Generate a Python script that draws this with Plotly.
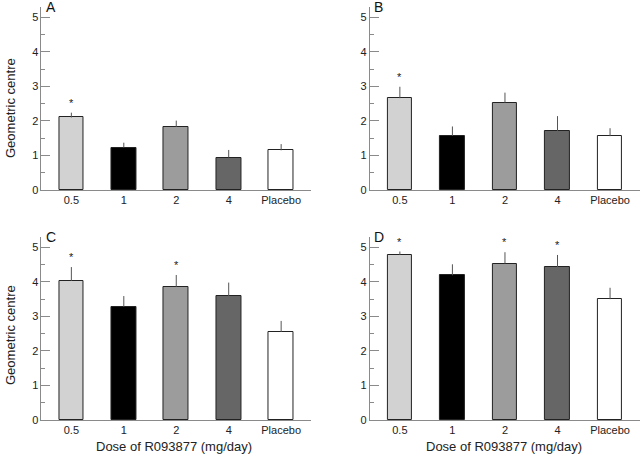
import plotly.graph_objects as go

categories = ["0.5", "1", "2", "4", "Placebo"]
bar_colors = ["#d2d2d2", "#000000", "#9c9c9c", "#666666", "#ffffff"]

panel_labels = ["A", "B", "C", "D"]
values_A = [2.10, 1.23, 1.83, 0.94, 1.15]
errors_A = [0.14, 0.14, 0.18, 0.22, 0.18]
stars_A = [True, False, False, False, False]

values_B = [2.66, 1.57, 2.53, 1.71, 1.56]
errors_B = [0.33, 0.27, 0.29, 0.43, 0.23]
stars_B = [True, False, False, False, False]

values_C = [4.03, 3.28, 3.86, 3.59, 2.55]
errors_C = [0.40, 0.31, 0.34, 0.39, 0.32]
stars_C = [True, False, True, False, False]

values_D = [4.78, 4.19, 4.53, 4.43, 3.50]
errors_D = [0.10, 0.32, 0.33, 0.35, 0.33]
stars_D = [True, False, True, True, False]

panels = [
    (values_A, errors_A, stars_A),
    (values_B, errors_B, stars_B),
    (values_C, errors_C, stars_C),
    (values_D, errors_D, stars_D),
]

x_domains = [[0.0648, 0.486], [0.578, 1.0], [0.0648, 0.486], [0.578, 1.0]]
y_domains = [[0.5824, 0.9846], [0.5824, 0.9846], [0.0769, 0.4791], [0.0769, 0.4791]]

FONT = "Liberation Sans, Arial, sans-serif"
fig = go.Figure()
annotations = []
layout = {}

for i, (vals, errs, stars) in enumerate(panels):
    n = "" if i == 0 else str(i + 1)
    xa, ya = "x" + n, "y" + n
    fig.add_trace(go.Bar(
        x=categories, y=vals, xaxis=xa, yaxis=ya, width=0.47,
        marker=dict(color=bar_colors, line=dict(color="#222222", width=1)),
        error_y=dict(type="data", array=errs, arrayminus=[0] * len(errs),
                     symmetric=False, width=0, thickness=1, color="#555555"),
        showlegend=False, hoverinfo="skip",
    ))
    layout["xaxis" + n] = dict(
        domain=x_domains[i], anchor=ya, range=[-0.57, 4.57],
        type="category", automargin=False,
        showline=True, linecolor="#8a8a8a", linewidth=1, ticks="",
        showgrid=False, zeroline=False,
        tickfont=dict(family=FONT, size=11, color="#222"),
    )
    layout["yaxis" + n] = dict(
        domain=y_domains[i], anchor=xa, range=[0, 5.3], automargin=False,
        showline=True, linecolor="#8a8a8a", linewidth=1,
        ticks="inside", ticklen=9, tickcolor="#8a8a8a", tickwidth=1,
        tickvals=[0, 1, 2, 3, 4, 5], showgrid=False, zeroline=False,
        minor=dict(dtick=0.5, ticks="inside", ticklen=4, tickcolor="#8a8a8a", showgrid=False),
        tickfont=dict(family=FONT, size=11, color="#222"),
    )
    annotations.append(dict(
        text=panel_labels[i], xref=xa + " domain", yref=ya + " domain",
        x=0.008, y=1.0, xanchor="left", yanchor="middle", showarrow=False,
        font=dict(family=FONT, size=14, color="#111"),
    ))
    for j, (v, e, s) in enumerate(zip(vals, errs, stars)):
        if s:
            annotations.append(dict(
                text="*", x=j, y=v + e, xref=xa, yref=ya, showarrow=False,
                yanchor="middle", yshift=10,
                font=dict(family=FONT, size=11, color="#222"),
            ))

# y-axis titles
for yc in [1 - 108 / 455, 1 - 335 / 455]:
    annotations.append(dict(
        text="Geometric centre", xref="paper", yref="paper", x=10 / 640, y=yc,
        textangle=-90, showarrow=False, xanchor="center", yanchor="middle",
        font=dict(family=FONT, size=13, color="#222"),
    ))
# x-axis titles
for xc in [174 / 640, 504 / 640]:
    annotations.append(dict(
        text="Dose of R093877 (mg/day)", xref="paper", yref="paper", x=xc, y=1 - 446 / 455,
        showarrow=False, xanchor="center", yanchor="middle",
        font=dict(family=FONT, size=13, color="#222"),
    ))

fig.update_layout(
    width=640, height=455, margin=dict(l=0, r=0, t=0, b=0, autoexpand=False),
    paper_bgcolor="white", plot_bgcolor="white",
    annotations=annotations, bargap=0, **layout,
)
fig.write_html(
    "out.html",
    config={"displayModeBar": False, "responsive": False},
    post_script="document.body.style.margin='0';document.body.style.overflow='hidden';",
)
